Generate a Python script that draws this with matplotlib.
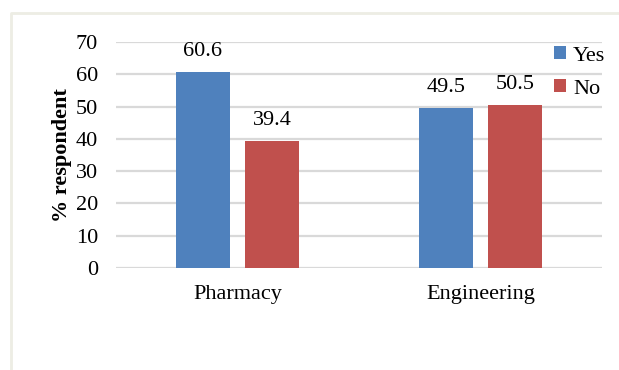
import numpy as np
import matplotlib.pyplot as plt
from matplotlib.lines import Line2D

plt.rcParams['font.family'] = ['Liberation Serif', 'DejaVu Serif']

# 数据
categories = ['Pharmacy', 'Engineering']
series_names = ['Yes', 'No']
yes_vals = [60.6, 49.5]
no_vals = [39.4, 50.5]
y_ticks = [0, 10, 20, 30, 40, 50, 60, 70]

COLORS = {'Yes': '#4F81BD', 'No': '#C0504D', 'grid': '#D9D9D9', 'frame': '#EDEDE4'}
FS = 16

W, H = 619, 370
fig = plt.figure(figsize=(W / 100, H / 100), dpi=100, facecolor='white')
ax = fig.add_axes([116 / W, 1 - 268 / H, (602 - 116) / W, (268 - 42) / H])

x = np.arange(len(categories))
bw = 0.222
off = 0.142
bars_yes = ax.bar(x - off, yes_vals, bw, color=COLORS['Yes'], label=series_names[0], zorder=3)
bars_no = ax.bar(x + off, no_vals, bw, color=COLORS['No'], label=series_names[1], zorder=3)

for bars in (bars_yes, bars_no):
    for b in bars:
        h = b.get_height()
        ax.annotate(f'{h:.1f}', xy=(b.get_x() + b.get_width() / 2, h),
                    xytext=(0, 8), textcoords='offset points',
                    ha='center', va='bottom', fontsize=FS)

ax.set_xlim(-0.5, 1.5)
ax.set_ylim(0, 70)
ax.set_yticks(y_ticks)
ax.set_xticks(x)
ax.set_xticklabels(categories)
ax.tick_params(axis='y', length=0, pad=13, labelsize=FS)
ax.tick_params(axis='x', length=0, pad=12, labelsize=FS)
for s in ax.spines.values():
    s.set_visible(False)
ax.yaxis.grid(True, color=COLORS['grid'], lw=1.6, zorder=0)
ax.set_axisbelow(True)
ax.set_ylabel('% respondent', fontsize=FS, fontweight='bold', labelpad=3)

ax.legend(loc='upper left', bbox_to_anchor=(543 / W, 1 - 35 / H), bbox_transform=fig.transFigure,
          frameon=False, fontsize=FS, handlelength=0.55, handleheight=0.55,
          handletextpad=0.3, labelspacing=0.6, borderpad=0)

# 外框（只露出左边和上边）
fig.add_artist(Line2D([11 / W, 11 / W, 1.0], [0.0, 1 - 13 / H, 1 - 13 / H],
                      transform=fig.transFigure, color=COLORS['frame'], lw=2))

fig.savefig('out.png', dpi=100, facecolor='white')
